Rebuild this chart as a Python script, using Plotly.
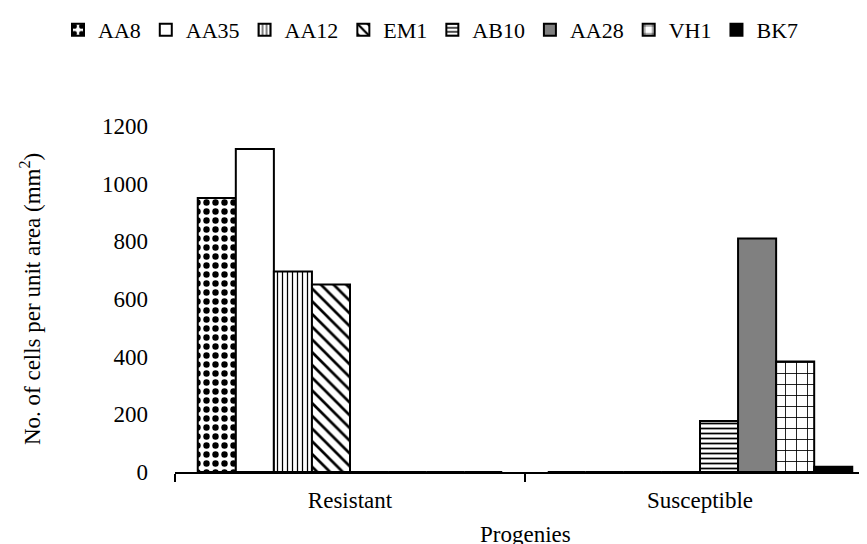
import plotly.graph_objects as go

categories = ["Resistant", "Susceptible"]
series_names = ["AA8", "AA35", "AA12", "EM1", "AB10", "AA28", "VH1", "BK7"]
aa8 = [950, 0]
aa35 = [1120, 0]
aa12 = [695, 0]
em1 = [650, 0]
ab10 = [0, 177]
aa28 = [0, 810]
vh1 = [0, 383]
bk7 = [0, 18]
y_ticks = [0, 200, 400, 600, 800, 1000, 1200]

values = [aa8, aa35, aa12, em1, ab10, aa28, vh1, bk7]
styles = [
    dict(color="white", pattern=dict(shape=".", fgcolor="black", bgcolor="white", size=9, solidity=0.4)),
    dict(color="white"),
    dict(color="white", pattern=dict(shape="|", fgcolor="black", bgcolor="white", size=5, solidity=0.25)),
    dict(color="white", pattern=dict(shape="\\", fgcolor="black", bgcolor="white", size=9, solidity=0.3)),
    dict(color="white", pattern=dict(shape="-", fgcolor="black", bgcolor="white", size=5, solidity=0.35)),
    dict(color="#808080"),
    dict(color="white", pattern=dict(shape="+", fgcolor="black", bgcolor="white", size=11, solidity=0.15)),
    dict(color="black"),
]

FONT = "Liberation Serif"
fig = go.Figure()
for name, vals, st in zip(series_names, values, styles):
    fig.add_trace(go.Bar(
        x=categories, y=vals, name=name,
        marker=dict(line=dict(color="black", width=2), **st),
    ))

fig.update_layout(
    template="none",
    barmode="group", bargap=0.13, bargroupgap=0,
    width=867, height=544,
    margin=dict(l=167, r=0, t=118, b=80),
    plot_bgcolor="white", paper_bgcolor="white",
    font=dict(family=FONT, size=23, color="black"),
    showlegend=True,
    legend=dict(orientation="h", xref="paper", yref="paper",
                x=(50 - 167) / 700, y=(464 - 22) / 346, xanchor="left", yanchor="middle",
                font=dict(family=FONT, size=22, color="black"),
                itemwidth=30, tracegroupgap=0),
)
fig.update_xaxes(
    showline=True, linecolor="black", linewidth=2,
    ticks="outside", tickson="boundaries", ticklen=8, tickwidth=2, tickcolor="black",
    showgrid=False, range=[-0.5, 1.5], ticklabelstandoff=6,
    tickfont=dict(family=FONT, size=23, color="black"),
)
fig.update_yaxes(
    range=[0, 1200], tickvals=y_ticks, showgrid=False, zeroline=False,
    showline=False, ticks="", ticklabelstandoff=26,
    tickfont=dict(family=FONT, size=23, color="black"),
)
fig.add_annotation(text="No. of cells per unit area (mm<sup>2</sup>)", xref="paper", yref="paper",
                   x=-0.207, y=0.5, xanchor="center", yanchor="middle", textangle=-90,
                   showarrow=False, font=dict(family=FONT, size=23, color="black"))
fig.add_annotation(text="Progenies", xref="paper", yref="paper", x=0.5, y=-0.18,
                   xanchor="center", yanchor="middle", showarrow=False,
                   font=dict(family=FONT, size=23, color="black"))
fig.write_html("out.html")
